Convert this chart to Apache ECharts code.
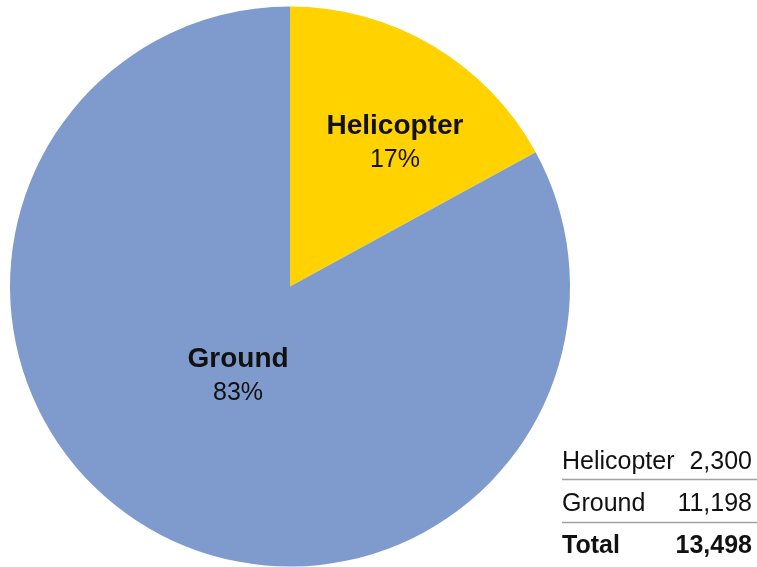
<!DOCTYPE html>
<html>
<head>
<meta charset="utf-8">
<script src="https://cdn.jsdelivr.net/npm/echarts@6/dist/echarts.min.js"></script>
<style>html,body{margin:0;padding:0;background:#fff;}#c{width:757px;height:567px;}</style>
</head>
<body>
<div id="c"></div>
<script>
var categories = ['Helicopter', 'Ground'];
var values = [2300, 11198];
var colors = ['#ffd200', '#7f9bcd'];
var totalLabel = 'Total';

var total = values.reduce(function (a, b) { return a + b; }, 0);
function fmt(n) { return n.toLocaleString('en-US'); }

var FONT = '"Liberation Sans", Arial, Helvetica, sans-serif';
var chart = echarts.init(document.getElementById('c'));

var labelShift = [[32, -20], [21, -33]];

var tableX0 = 562, tableX1 = 752;
var rowY = [464, 506, 548];
var lineY = [479.5, 522.5];
var graphics = [];
categories.forEach(function (c, i) {
  graphics.push({ type: 'text', left: tableX0, top: rowY[i] - 14, style: { text: c, font: '25px ' + FONT, fill: '#111' } });
  graphics.push({ type: 'text', right: 757 - tableX1, top: rowY[i] - 14, style: { text: fmt(values[i]), font: '25px ' + FONT, fill: '#111', align: 'right' } });
  graphics.push({ type: 'line', shape: { x1: tableX0, y1: lineY[i], x2: 757, y2: lineY[i] }, style: { stroke: '#a0a0a0', lineWidth: 1.5 } });
});
graphics.push({ type: 'text', left: tableX0, top: rowY[2] - 14, style: { text: totalLabel, font: 'bold 25px ' + FONT, fill: '#111' } });
graphics.push({ type: 'text', right: 757 - tableX1, top: rowY[2] - 14, style: { text: fmt(total), font: 'bold 25px ' + FONT, fill: '#111', align: 'right' } });

chart.setOption({
  animation: false,
  color: colors,
  series: [{
    type: 'pie',
    center: [290, 286.5],
    radius: [0, 280],
    startAngle: 90,
    clockwise: true,
    silent: true,
    data: categories.map(function (c, i) { return { name: c, value: values[i] }; }),
    itemStyle: { borderWidth: 0 },
    label: {
      show: true,
      position: 'inside',
      formatter: function (p) { return '{b|' + p.name + '}\n{p|' + Math.round(p.percent) + '%}'; },
      rich: {
        b: { fontFamily: FONT, fontWeight: 'bold', fontSize: 28, color: '#111', lineHeight: 34 },
        p: { fontFamily: FONT, fontSize: 25, color: '#111', lineHeight: 34 }
      }
    },
    labelLine: { show: false },
    labelLayout: function (params) {
      var s = labelShift[params.dataIndex];
      return { dx: s[0], dy: s[1] };
    }
  }],
  graphic: graphics
});
</script>
</body>
</html>
